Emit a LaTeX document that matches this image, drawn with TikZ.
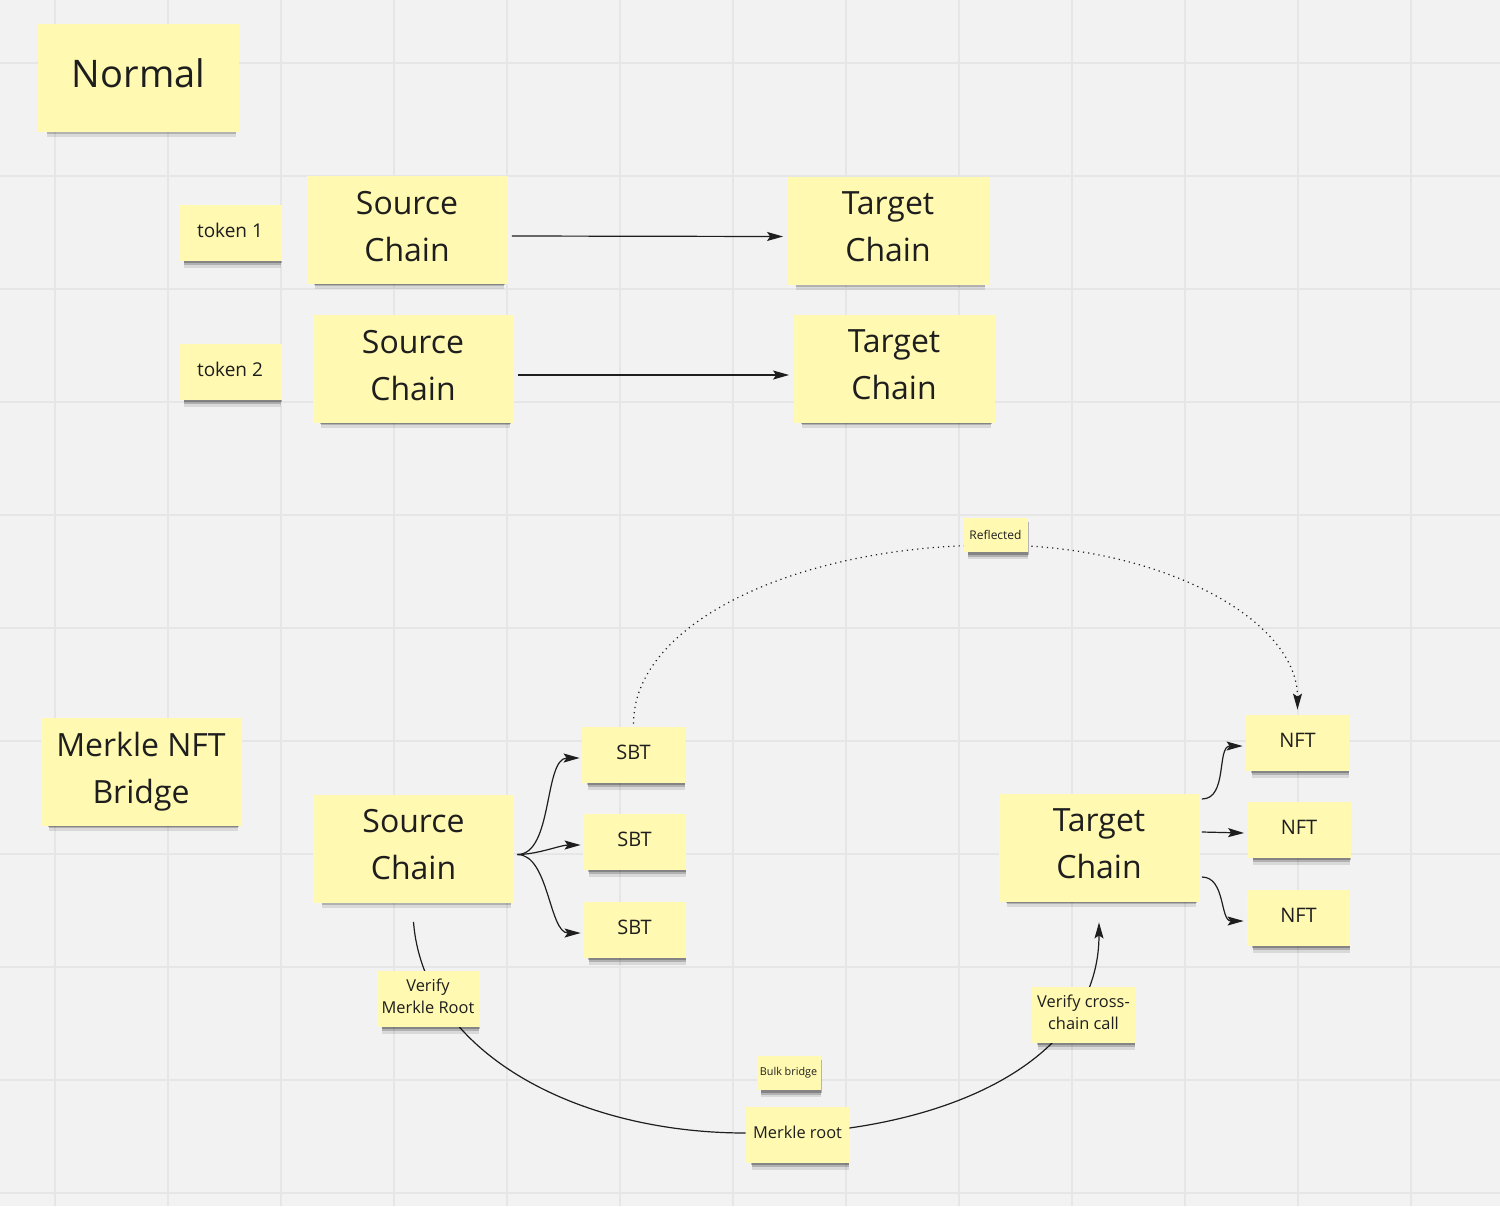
\documentclass[tikz,border=0pt]{standalone}
\usepackage{fontspec}
\setmainfont{Open Sans}
\usetikzlibrary{arrows.meta,shadows}
\definecolor{board}{HTML}{F2F2F2}
\definecolor{gridline}{HTML}{E6E6E6}
\definecolor{notey}{HTML}{FFF9B1}
\definecolor{ink}{HTML}{1E1E1E}
\pgfdeclarelayer{board}
\pgfdeclarelayer{links}
\pgfsetlayers{board,links,main}
\tikzset{sticky/.style={rectangle, fill=notey, text=ink, inner sep=0pt, align=center,
  general shadow={shadow xshift=1.5pt,shadow yshift=-4.5pt,shadow scale=0.94,fill=black,opacity=0.10},
  general shadow={shadow xshift=1.5pt,shadow yshift=-3pt,shadow scale=0.94,fill=black,opacity=0.18},
  general shadow={shadow xshift=1.5pt,shadow yshift=-1.8pt,shadow scale=0.95,fill=black,opacity=0.25}}}
\tikzset{bignote/.style={sticky, minimum width=100.5pt, minimum height=54pt, text depth=4pt,
  font=\fontsize{16}{23.5}\selectfont}}
\tikzset{note/.style={sticky, minimum width=51.5pt, minimum height=28pt, text depth=2.5pt,
  font=\fontsize{10}{13}\selectfont}}
\tikzset{tagnote/.style={sticky, minimum width=32pt, minimum height=17pt,
  font=\fontsize{6}{7}\selectfont}}
\tikzset{plain/.style={draw=ink, line width=0.6pt}}
\tikzset{link/.style={plain, -{Stealth[length=8pt,width=4.5pt,inset=1.5pt]}}}
\tikzset{dotlink/.style={link, dash pattern=on 0.6pt off 2pt}}

\begin{document}
\begin{tikzpicture}[x=0.5pt,y=-0.5pt]

\useasboundingbox (0,0) rectangle (1500,1206);
\begin{pgfonlayer}{board}
\fill[board] (0,0) rectangle (1500,1206);
\foreach \gx in {55,168,...,1411}{
  \draw[gridline, line width=0.8pt] (\gx,0) -- (\gx,1206);
}
\foreach \gy in {63,176,...,1193}{
  \draw[gridline, line width=0.8pt] (0,\gy) -- (1500,\gy);
}
\end{pgfonlayer}

% normal bridge
\node[bignote, font=\fontsize{19}{23}\selectfont] (normal) at (138.5,77.5) {Normal};
\node[note, font=\fontsize{9.5}{12}\selectfont] (tok1) at (230,233) {token 1};
\node[note, font=\fontsize{9.5}{12}\selectfont] (tok2) at (230,372) {token 2};
\node[bignote] (src1) at (407,230) {Source\\Chain};
\node[bignote] (src2) at (413,369) {Source\\Chain};
\node[bignote] (tgt1) at (888,230.5) {Target\\Chain};
\node[bignote] (tgt2) at (894,369) {Target\\Chain};

% merkle nft bridge
\node[bignote] (merkle) at (141,772) {Merkle NFT\\Bridge};
\node[bignote] (src3) at (413.5,848.5) {Source\\Chain};
\node[bignote] (tgt3) at (1099,848) {Target\\Chain};
\node[note] (sbt1) at (633.5,755) {SBT};
\node[note] (sbt2) at (634.5,842) {SBT};
\node[note] (sbt3) at (634.5,930) {SBT};
\node[note] (nft1) at (1297.5,743) {NFT};
\node[note] (nft2) at (1299,830) {NFT};
\node[note] (nft3) at (1298.5,918) {NFT};
\node[tagnote] (reflected) at (995.5,535) {Reflected};
\node[tagnote, font=\fontsize{5.4}{7}\selectfont] (bulk) at (788.5,1073) {Bulk bridge};
\node[note, font=\fontsize{8.2}{11}\selectfont] (vroot) at (428,999) {Verify\\Merkle Root};
\node[note, font=\fontsize{8.2}{11}\selectfont] (vcall) at (1083.5,1015) {Verify cross-\\chain call};
\node[note, font=\fontsize{8.2}{11}\selectfont] (mroot) at (797.5,1135) {Merkle root};

\begin{pgfonlayer}{links}
\draw[link] ([xshift=2pt,yshift=-3pt]src1.east) -- ([xshift=-2pt,yshift=-3pt]tgt1.west);
\draw[link] ([xshift=2pt,yshift=-3pt]src2.east) -- ([xshift=-2pt,yshift=-3pt]tgt2.west);

\foreach \s in {sbt1,sbt2,sbt3}{
  \draw[link] ([xshift=1.5pt,yshift=-3pt]src3.east) to[out=0,in=180,looseness=0.8] ([xshift=-1pt,yshift=-1.5pt]\s.west);
}
\foreach \n/\dy in {nft1/24.5pt,nft3/-14.5pt}{
  \draw[link] ([xshift=1pt,yshift=\dy]tgt3.east) to[out=0,in=180] ([xshift=-1.5pt,yshift=-1.5pt]\n.west);
}
\draw[link] ([xshift=1pt,yshift=8pt]tgt3.east) -- ([xshift=-1.5pt,yshift=-1.5pt]nft2.west);

\draw[dotlink] ([yshift=1.5pt]sbt1.north) .. controls +(0,-100) and +(-200,0) .. ([yshift=-5pt]reflected.center)
  .. controls +(166,0) and +(0,-90) .. ([yshift=2.5pt]nft1.north);

\draw[plain] ([yshift=-9.5pt]src3.south) .. controls +(10,130) and +(-170,0) .. ([yshift=1pt]mroot.west);
\draw[link] ([yshift=3.5pt]mroot.east) .. controls +(140,-20) and +(0,120) .. ([yshift=-10pt]tgt3.south);
\end{pgfonlayer}

\end{tikzpicture}
\end{document}
